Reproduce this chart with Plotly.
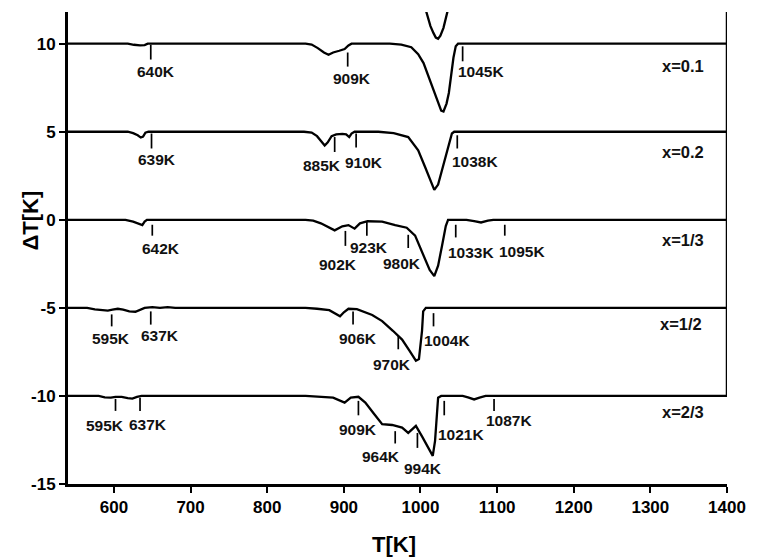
import plotly.graph_objects as go

# ---------------- data ----------------
series_names = ["x=0.1", "x=0.2", "x=1/3", "x=1/2", "x=2/3"]
offsets = [10, 5, 0, -5, -10]

T_01 = [540, 600, 618, 626, 634, 640, 644, 850, 858, 866, 874, 880, 886, 894, 901, 906, 910, 960, 975, 988,
        997, 1004, 1010, 1016, 1022, 1027, 1030, 1034, 1037, 1040, 1043, 1046, 1049, 1400]
dT_01 = [0, 0, 0, -0.06, -0.1, -0.08, 0, 0, -0.05, -0.25, -0.5, -0.63, -0.5, -0.4, -0.3, -0.1, 0, 0, -0.05, -0.2,
         -0.6, -1.1, -1.8, -2.6, -3.3, -3.8, -3.85, -3.4, -2.8, -1.8, -0.8, -0.15, 0, 0]

T_02 = [540, 618, 625, 631, 635, 638, 641, 645, 848, 858, 865, 871, 875, 879, 884, 890, 898, 903, 907, 910, 914,
        945, 965, 984, 997, 1006, 1013, 1018, 1023, 1029, 1036, 1041, 1044, 1400]
dT_02 = [0, 0, -0.08, -0.2, -0.33, -0.28, -0.05, 0, 0, -0.05, -0.25, -0.55, -0.78, -0.6, -0.25, -0.15, -0.12, -0.15,
         -0.3, -0.1, 0, 0, -0.08, -0.3, -1.05, -2.0, -2.8, -3.3, -3.0, -2.0, -0.85, -0.1, 0, 0]

T_13 = [540, 615, 625, 632, 637, 640, 643, 850, 860, 870, 880, 888, 898, 906, 914, 921, 931, 950, 967, 982, 993,
        1003, 1012, 1018, 1023, 1028, 1033, 1036, 1060, 1070, 1079, 1088, 1095, 1400]
dT_13 = [0, 0, -0.1, -0.2, -0.3, -0.1, 0, 0, -0.05, -0.2, -0.4, -0.6, -0.37, -0.3, -0.5, -0.2, -0.08, -0.1, -0.3,
         -0.45, -0.9, -1.9, -2.85, -3.2, -2.6, -1.5, -0.35, 0, 0, -0.08, -0.15, -0.05, 0, 0]

T_12 = [540, 565, 575, 585, 592, 598, 605, 612, 620, 628, 634, 640, 650, 660, 670, 680, 700, 850, 865, 881, 895,
        900, 906, 917, 937, 950, 964, 976, 986, 994, 998, 1002, 1003.5, 1007, 1400]
dT_12 = [0, 0, -0.08, -0.12, -0.15, -0.1, -0.05, -0.1, -0.2, -0.22, -0.1, 0, 0.04, 0, 0.04, 0, 0, 0, -0.05, -0.13,
         -0.48, -0.25, -0.05, -0.07, -0.4, -0.75, -1.3, -1.8, -2.45, -3.0, -2.9, -1.3, -0.2, 0, 0]

T_23 = [540, 580, 588, 596, 602, 610, 618, 624, 630, 636, 850, 870, 886, 901, 909, 919, 928, 939, 950, 963, 976,
        984, 994, 1002, 1010, 1016, 1019, 1021, 1023, 1027, 1055, 1062, 1070, 1077, 1085, 1400]
dT_23 = [0, 0, -0.08, -0.1, -0.05, -0.05, -0.12, -0.15, -0.05, 0, 0, -0.05, -0.1, -0.38, -0.1, -0.05, -0.38, -1.0,
         -1.6, -1.65, -1.8, -2.1, -1.7, -2.3, -2.95, -3.4, -2.55, -1.0, -0.1, 0, 0, -0.08, -0.2, -0.1, 0, 0]

# clipped piece of a curve visible at the top of the frame
T_top = [1003, 1008, 1013, 1017, 1020, 1023, 1026, 1030, 1034, 1039]
dT_top = [12.5, 11.7, 11.0, 10.6, 10.35, 10.28, 10.45, 10.9, 11.6, 12.5]

curves_T = [T_01, T_02, T_13, T_12, T_23]
curves_dT = [dT_01, dT_02, dT_13, dT_12, dT_23]

# event temperatures marked on each curve (label text, marker temperature)
event_labels = [
    ["640K", "909K", "1045K"],
    ["639K", "885K", "910K", "1038K"],
    ["642K", "902K", "923K", "980K", "1033K", "1095K"],
    ["595K", "637K", "906K", "970K", "1004K"],
    ["595K", "637K", "909K", "964K", "994K", "1021K", "1087K"],
]
event_T = [
    [648, 905, 1055],
    [649, 888, 916, 1048],
    [650, 902, 930, 984, 1046, 1110],
    [597, 648, 912, 971, 1017],
    [602, 634, 919, 967, 996, 1031, 1096],
]

x_ticks = [600, 700, 800, 900, 1000, 1100, 1200, 1300, 1400]
y_ticks = [-15, -10, -5, 0, 5, 10]

# ---------------- layout details (positions relative to each baseline) ----------------
marker_dy = [
    [(-0.06, -0.9), (-0.5, -1.3), (-0.15, -1.0)],
    [(-0.1, -0.95), (-0.3, -1.15), (-0.1, -0.9), (-0.2, -0.95)],
    [(-0.28, -0.9), (-0.63, -1.48), (-0.06, -0.9), (-0.85, -1.6), (-0.28, -1.0), (-0.28, -0.9)],
    [(-0.37, -1.05), (-0.2, -0.95), (-0.2, -0.95), (-1.6, -2.35), (-0.3, -1.05)],
    [(-0.17, -0.85), (-0.1, -0.85), (-0.28, -1.1), (-2.0, -2.7), (-2.1, -2.95), (-0.28, -1.1), (-0.17, -0.85)],
]
label_pos = [
    [(655, -1.6), (911, -2.0), (1079, -1.6)],
    [(656, -1.55), (872, -1.9), (926, -1.75), (1071, -1.7)],
    [(661, -1.65), (892, -2.55), (933, -1.55), (976, -2.5), (1066, -1.85), (1132, -1.8)],
    [(596, -1.75), (660, -1.55), (918, -1.75), (963, -3.2), (1035, -1.85)],
    [(588, -1.7), (645, -1.6), (918, -1.9), (948, -3.45), (1003, -4.1), (1053, -2.2), (1116, -1.4)],
]
name_pos = [(1343, -1.25), (1343, -1.15), (1343, -1.15), (1340, -0.9), (1342, -0.9)]

FONT = "Liberation Sans, Arial, sans-serif"
fig = go.Figure()

for Ts, dTs, off in zip(curves_T, curves_dT, offsets):
    fig.add_trace(go.Scatter(x=Ts, y=[d + off for d in dTs], mode="lines",
                             line=dict(color="black", width=2.3), showlegend=False, hoverinfo="skip"))

fig.add_trace(go.Scatter(x=T_top, y=dT_top, mode="lines",
                         line=dict(color="black", width=2.3), showlegend=False, hoverinfo="skip"))

shapes = []
annotations = []
for i, off in enumerate(offsets):
    for j, (lab, tm) in enumerate(zip(event_labels[i], event_T[i])):
        y0, y1 = marker_dy[i][j]
        shapes.append(dict(type="line", xref="x", yref="y", x0=tm, x1=tm, y0=off + y0, y1=off + y1,
                           line=dict(color="black", width=1.7)))
        lx, ly = label_pos[i][j]
        annotations.append(dict(x=lx, y=off + ly, xref="x", yref="y", text="<b>%s</b>" % lab,
                                showarrow=False, xanchor="center", yanchor="middle",
                                font=dict(family=FONT, size=15.5, color="#111")))
    nx, ny = name_pos[i]
    annotations.append(dict(x=nx, y=off + ny, xref="x", yref="y", text="<b>%s</b>" % series_names[i],
                            showarrow=False, xanchor="center", yanchor="middle",
                            font=dict(family=FONT, size=16.5, color="#111")))

# right frame segment
shapes.append(dict(type="line", xref="x", yref="y", x0=1400, x1=1400, y0=offsets[-1], y1=11.8,
                   line=dict(color="black", width=2.5)))

# axis titles
annotations.append(dict(x=-0.057, y=0.559, xref="paper", yref="paper", text="<b>ΔT[K]</b>",
                        textangle=-90, showarrow=False, xanchor="center", yanchor="middle",
                        font=dict(family=FONT, size=22, color="black")))
annotations.append(dict(x=0.494, y=-0.129, xref="paper", yref="paper", text="<b>T[K]</b>",
                        showarrow=False, xanchor="center", yanchor="middle",
                        font=dict(family=FONT, size=22, color="black")))

fig.update_layout(
    width=758, height=557,
    margin=dict(l=68, r=22, t=12, b=73),
    paper_bgcolor="white", plot_bgcolor="white",
    shapes=shapes, annotations=annotations,
    showlegend=False,
)
fig.update_xaxes(range=[540, 1400], tickvals=x_ticks, ticktext=[str(v) for v in x_ticks],
                 showline=True, linecolor="black", linewidth=3, showgrid=False, zeroline=False,
                 ticks="outside", ticklen=6, tickwidth=2, tickcolor="black",
                 tickfont=dict(family=FONT, size=17, color="black", weight="bold"))
fig.update_yaxes(range=[-15, 11.8], tickvals=y_ticks, ticktext=[str(v) for v in y_ticks],
                 showline=True, linecolor="black", linewidth=3, showgrid=False, zeroline=False,
                 ticks="outside", ticklen=6, tickwidth=2, tickcolor="black",
                 tickfont=dict(family=FONT, size=17, color="black", weight="bold"))

fig.write_html("out.html")
